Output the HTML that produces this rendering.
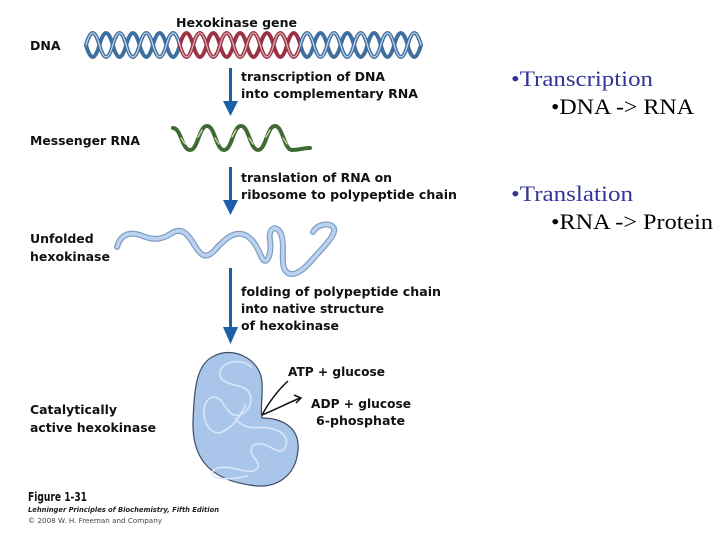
<!DOCTYPE html>
<html><head><meta charset="utf-8"><style>
body{margin:0;background:#fff;width:720px;height:540px;overflow:hidden}
svg{display:block}
.b{font-family:"DejaVu Sans","Liberation Sans",sans-serif;font-weight:bold;font-size:12.5px;fill:#111}
.t{font-family:"Liberation Serif",serif;font-size:22px}
</style></head><body>
<svg width="720" height="540" viewBox="0 0 720 540">
<g fill="none" stroke-linecap="round">
<g stroke-width="4">
<path stroke="#3f6f9f" d="M86,45 q6.7,-24 13.4,0 t13.4,0 t13.4,0 t13.4,0 t13.4,0 t13.4,0 t13.4,0"/>
<path stroke="#3f6f9f" d="M86,45 q6.7,24 13.4,0 t13.4,0 t13.4,0 t13.4,0 t13.4,0 t13.4,0 t13.4,0"/>
<path stroke="#9a3346" d="M179.8,45 q6.7,24 13.4,0 t13.4,0 t13.4,0 t13.4,0 t13.4,0 t13.4,0 t13.4,0 t13.4,0 t13.4,0"/>
<path stroke="#9a3346" d="M179.8,45 q6.7,-24 13.4,0 t13.4,0 t13.4,0 t13.4,0 t13.4,0 t13.4,0 t13.4,0 t13.4,0 t13.4,0"/>
<path stroke="#3f6f9f" d="M300.4,45 q6.7,-24 13.4,0 t13.4,0 t13.4,0 t13.4,0 t13.4,0 t13.4,0 t13.4,0 t13.4,0 t13.4,0"/>
<path stroke="#3f6f9f" d="M300.4,45 q6.7,24 13.4,0 t13.4,0 t13.4,0 t13.4,0 t13.4,0 t13.4,0 t13.4,0 t13.4,0 t13.4,0"/>
</g>
<g stroke-width="1.3" stroke="#c4d6ea">
<path d="M86,45 q6.7,-24 13.4,0 t13.4,0 t13.4,0 t13.4,0 t13.4,0 t13.4,0 t13.4,0"/>
<path d="M179.8,45 q6.7,24 13.4,0 t13.4,0 t13.4,0 t13.4,0 t13.4,0 t13.4,0 t13.4,0 t13.4,0 t13.4,0" stroke="#e0b0b8"/>
<path d="M300.4,45 q6.7,-24 13.4,0 t13.4,0 t13.4,0 t13.4,0 t13.4,0 t13.4,0 t13.4,0 t13.4,0 t13.4,0"/>
</g>
<path stroke="#3f6a35" stroke-width="4" d="M173,128 C181,128 182,150 190,150 C198,150 199,126 207,126 C215,126 216,150 224,150 C232,150 233,126 241,126 C249,126 250,150 258,150 C266,150 267,126 275,126 C283,126 284,150 292,150 C300,150 302,148 310,148"/>
<path stroke="#d2dca0" stroke-width="1.3" d="M181,138 l4,6 M198,137 l4,-7 M215,138 l4,6 M232,137 l4,-7 M249,138 l4,6 M266,137 l4,-7 M283,138 l4,6"/>
<path stroke="#7f9fc6" stroke-width="6" d="M117,247 C120,236 128,231 140,235 C152,240 160,241 172,233 C182,227 188,234 195,246 C201,256 206,259 214,251 C224,240 232,232 242,234 C254,237 258,250 262,258 C266,266 272,256 270,240 C268,228 276,225 280,232 C286,242 280,262 285,270 C290,278 300,274 312,260 C324,246 340,232 332,226 C326,222 316,226 313,232"/>
<path stroke="#bcd2ee" stroke-width="3.5" d="M117,247 C120,236 128,231 140,235 C152,240 160,241 172,233 C182,227 188,234 195,246 C201,256 206,259 214,251 C224,240 232,232 242,234 C254,237 258,250 262,258 C266,266 272,256 270,240 C268,228 276,225 280,232 C286,242 280,262 285,270 C290,278 300,274 312,260 C324,246 340,232 332,226 C326,222 316,226 313,232"/>
</g>
<g fill="#1a5fa8" stroke="none">
<rect x="229" y="68" width="3" height="34"/><polygon points="223,101 238,101 230.5,116"/>
<rect x="229" y="167" width="3" height="34"/><polygon points="223,200 238,200 230.5,215"/>
<rect x="229" y="268" width="3" height="60"/><polygon points="223,327 238,327 230.5,344"/>
</g>
<path fill="#a9c6ea" stroke="#3b4c66" stroke-width="1.2" d="M214,356 C232,346 260,358 262,382 C263,398 260,408 262,418 C280,418 300,426 298,450 C296,476 276,490 250,485 C214,480 192,462 193,422 C194,390 196,364 214,356 Z"/>
<g fill="none" stroke="#d8e6f8" stroke-width="1.6">
<path d="M252,368 C245,358 222,360 220,372 C218,384 236,384 244,388 C252,392 254,404 245,412 C235,420 230,414 222,402 C215,392 205,398 204,410 C203,424 212,436 222,432 C236,426 242,412 246,404"/>
<path d="M235,418 C246,432 256,426 268,428 C282,430 290,438 285,448 C280,456 272,446 262,444 C250,442 248,452 256,460 C262,468 256,474 240,470 C226,466 212,466 212,474 C214,480 230,480 248,476"/>
</g>
<g fill="none" stroke="#111" stroke-width="1.5">
<path d="M288,381 C276,392 268,404 262,415"/>
<path d="M262,415 C274,410 286,404 300,398"/><path d="M294,395 L301,398 L296,403"/>
</g>
<text class="b" x="176" y="27" textLength="121" lengthAdjust="spacingAndGlyphs">Hexokinase gene</text>
<text class="b" x="30" y="50">DNA</text>
<text class="b" x="241" y="81" textLength="144" lengthAdjust="spacingAndGlyphs">transcription of DNA</text>
<text class="b" x="241" y="98" textLength="177" lengthAdjust="spacingAndGlyphs">into complementary RNA</text>
<text class="b" x="30" y="145" textLength="110" lengthAdjust="spacingAndGlyphs">Messenger RNA</text>
<text class="b" x="241" y="182" textLength="151" lengthAdjust="spacingAndGlyphs">translation of RNA on</text>
<text class="b" x="241" y="199" textLength="216" lengthAdjust="spacingAndGlyphs">ribosome to polypeptide chain</text>
<text class="b" x="30" y="243">Unfolded</text>
<text class="b" x="30" y="261" textLength="80" lengthAdjust="spacingAndGlyphs">hexokinase</text>
<text class="b" x="241" y="296" textLength="200" lengthAdjust="spacingAndGlyphs">folding of polypeptide chain</text>
<text class="b" x="241" y="313" textLength="143" lengthAdjust="spacingAndGlyphs">into native structure</text>
<text class="b" x="241" y="330" textLength="98" lengthAdjust="spacingAndGlyphs">of hexokinase</text>
<text class="b" x="288" y="376" textLength="97" lengthAdjust="spacingAndGlyphs">ATP + glucose</text>
<text class="b" x="311" y="408" textLength="100" lengthAdjust="spacingAndGlyphs">ADP + glucose</text>
<text class="b" x="316" y="425" textLength="89" lengthAdjust="spacingAndGlyphs">6-phosphate</text>
<text class="b" x="30" y="414" textLength="87" lengthAdjust="spacingAndGlyphs">Catalytically</text>
<text class="b" x="30" y="432" textLength="126" lengthAdjust="spacingAndGlyphs">active hexokinase</text>
<text class="b" x="28" y="501" style="font-size:12px" textLength="59" lengthAdjust="spacingAndGlyphs">Figure 1-31</text>
<text x="28" y="512" style="font-family:'DejaVu Sans',sans-serif;font-size:7px;font-style:italic;font-weight:bold;fill:#222" textLength="191" lengthAdjust="spacingAndGlyphs">Lehninger Principles of Biochemistry, Fifth Edition</text>
<text x="28" y="523" style="font-family:'DejaVu Sans',sans-serif;font-size:7px;fill:#444" textLength="134" lengthAdjust="spacingAndGlyphs">© 2008 W. H. Freeman and Company</text>
<text class="t" x="511" y="86" fill="#333399" textLength="142" lengthAdjust="spacingAndGlyphs">•Transcription</text>
<text class="t" x="551" y="114" fill="#000" textLength="143" lengthAdjust="spacingAndGlyphs">•DNA -&gt; RNA</text>
<text class="t" x="511" y="201" fill="#333399" textLength="122" lengthAdjust="spacingAndGlyphs">•Translation</text>
<text class="t" x="551" y="229" fill="#000" textLength="162" lengthAdjust="spacingAndGlyphs">•RNA -&gt; Protein</text>
</svg>
</body></html>
